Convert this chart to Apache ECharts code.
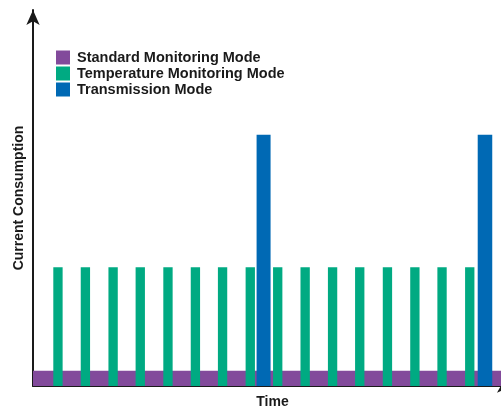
<!DOCTYPE html>
<html>
<head>
<meta charset="utf-8">
<script src="https://cdn.jsdelivr.net/npm/echarts@6/dist/echarts.min.js"></script>
<style>
html,body{margin:0;padding:0;background:#fff;overflow:hidden;width:501px;height:414px;}
#chart{width:512px;height:414px;}
</style>
</head>
<body>
<div id="chart"></div>
<script>
// Series names (legend)
const seriesNames = ['Standard Monitoring Mode', 'Temperature Monitoring Mode', 'Transmission Mode'];
// Time axis range (arbitrary units)
const timeMax = 17.46;
const currentMax = 100;
// Standard monitoring: continuous baseline
const standardStart = [0];
const standardEnd = [17.46];
const standardLevel = [4.05];
// Temperature monitoring pulses
const tempStart = [0.74, 1.74, 2.75, 3.74, 4.75, 5.75, 6.74, 7.75, 8.75, 9.75, 10.75, 11.74, 12.75, 13.75, 14.74, 15.75];
const tempEnd   = [1.08, 2.08, 3.09, 4.08, 5.09, 6.09, 7.08, 8.09, 9.09, 10.09, 11.09, 12.08, 13.09, 14.09, 15.08, 16.09];
const tempLevel = [31.6, 31.6, 31.6, 31.6, 31.6, 31.6, 31.6, 31.6, 31.6, 31.6, 31.6, 31.6, 31.6, 31.6, 31.6, 31.6];
// Transmission pulses
const txStart = [8.15, 16.21];
const txEnd   = [8.66, 16.74];
const txLevel = [66.8, 66.8];

const colors = ['#824a9b', '#00aa82', '#0069b4'];

function pack(s, e, v) { return s.map((x, i) => [x, e[i], v[i]]); }

function renderRect(params, api) {
  const p0 = api.coord([api.value(0), 0]);
  const p1 = api.coord([api.value(1), api.value(2)]);
  return {
    type: 'rect',
    shape: { x: p0[0], y: p1[1], width: p1[0] - p0[0], height: p0[1] - p1[1] },
    style: { fill: api.visual('color') }
  };
}

const chart = echarts.init(document.getElementById('chart'), null, { renderer: 'canvas' });
chart.setOption({
  animation: false,
  grid: { left: 33, right: 0, top: 10, bottom: 21, containLabel: false },
  legend: {
    orient: 'vertical',
    left: 56,
    top: 50,
    padding: 0,
    itemWidth: 14,
    itemHeight: 14,
    itemGap: 1,
    icon: 'rect',
    textStyle: { fontFamily: 'Liberation Sans', fontWeight: 'bold', fontSize: 14.5, color: '#1a1a1a', lineHeight: 14, padding: [0, 0, 0, 2] },
    data: seriesNames
  },
  xAxis: {
    type: 'value', min: 0, max: timeMax,
    name: 'Time', nameLocation: 'middle', nameGap: 9,
    nameTextStyle: { fontFamily: 'Liberation Sans', fontWeight: 'bold', fontSize: 14, color: '#1a1a1a' },
    axisLine: { show: true, lineStyle: { color: '#1a1a1a', width: 2 }, symbol: ['none', 'arrow'], symbolSize: [10, 15] },
    axisTick: { show: false }, axisLabel: { show: false }, splitLine: { show: false }
  },
  yAxis: {
    type: 'value', min: 0, max: currentMax,
    name: 'Current Consumption', nameLocation: 'middle', nameGap: 7,
    nameTextStyle: { fontFamily: 'Liberation Sans', fontWeight: 'bold', fontSize: 14, color: '#1a1a1a' },
    axisLine: { show: true, lineStyle: { color: '#1a1a1a', width: 2 }, symbol: ['none', 'arrow'], symbolSize: [10, 15] },
    axisTick: { show: false }, axisLabel: { show: false }, splitLine: { show: false }
  },
  series: [
    { name: seriesNames[0], type: 'custom', renderItem: renderRect, itemStyle: { color: colors[0] },
      encode: { x: [0, 1], y: 2 }, data: pack(standardStart, standardEnd, standardLevel), z: 1 },
    { name: seriesNames[1], type: 'custom', renderItem: renderRect, itemStyle: { color: colors[1] },
      encode: { x: [0, 1], y: 2 }, data: pack(tempStart, tempEnd, tempLevel), z: 2 },
    { name: seriesNames[2], type: 'custom', renderItem: renderRect, itemStyle: { color: colors[2] },
      encode: { x: [0, 1], y: 2 }, data: pack(txStart, txEnd, txLevel), z: 3 }
  ]
});
</script>
</body>
</html>
